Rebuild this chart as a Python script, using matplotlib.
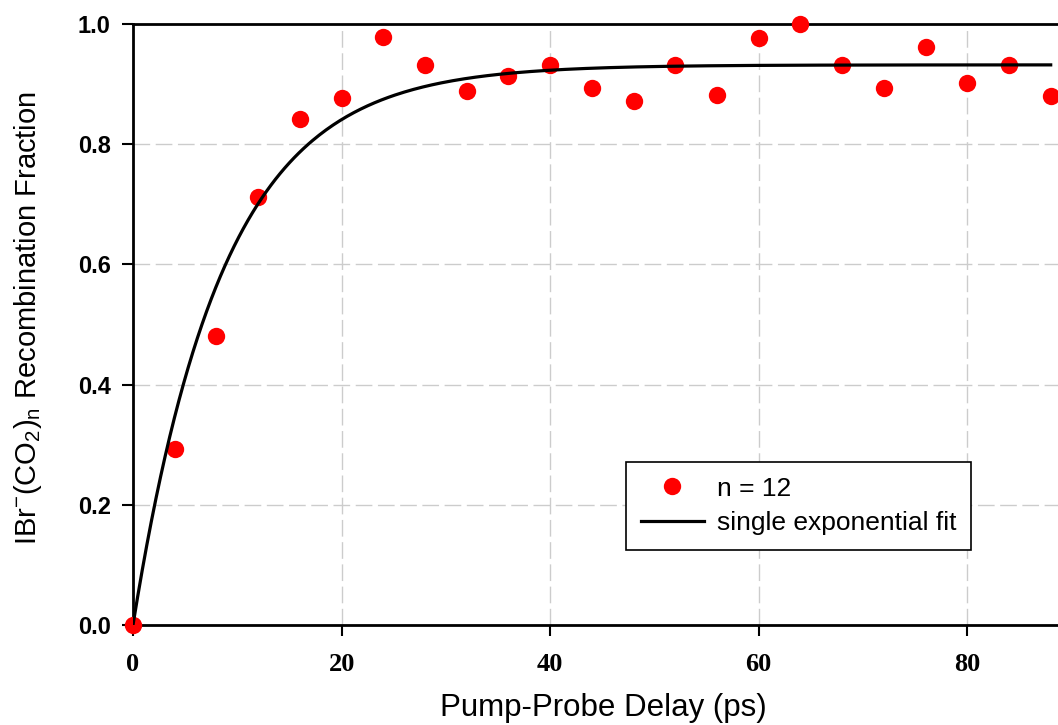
import numpy as np
import matplotlib.pyplot as plt

# pump-probe delay (ps) and recombination fraction
delay = [0, 4, 8, 12, 16, 20, 24, 28, 32, 36, 40, 44, 48, 52, 56, 60, 64, 68, 72, 76, 80, 84, 88]
fraction = [0.0, 0.293, 0.481, 0.712, 0.842, 0.877, 0.978, 0.932, 0.889, 0.913, 0.932,
            0.894, 0.872, 0.932, 0.882, 0.977, 1.0, 0.932, 0.894, 0.962, 0.902, 0.932, 0.880]

# single exponential fit parameters: A * (1 - exp(-t / tau))
fit_amp = 0.932
fit_tau = 8.6

x_ticks = [0, 20, 40, 60, 80]
y_ticks = [0.0, 0.2, 0.4, 0.6, 0.8, 1.0]

plt.rcParams["font.family"] = "Liberation Sans"
plt.rcParams["mathtext.fontset"] = "custom"
plt.rcParams["mathtext.rm"] = "Liberation Sans"
plt.rcParams["mathtext.it"] = "Liberation Sans"

fig = plt.figure(figsize=(10.58, 7.25), dpi=100)
ax = fig.add_axes([133 / 1058, 100 / 725, (1058 - 133) / 1058, 601 / 725])

t = np.linspace(0, 88, 400)
fit = fit_amp * (1 - np.exp(-t / fit_tau))

ax.plot(delay, fraction, "o", color="red", markersize=12.5, markeredgewidth=0,
        clip_on=False, zorder=3, label="n = 12")
ax.plot(t, fit, color="black", linewidth=2.3, zorder=4, label="single exponential fit")

ax.set_xlim(0, 88.7)
ax.set_ylim(0, 1.0)
ax.set_xticks(x_ticks, [str(v) for v in x_ticks], fontfamily="Liberation Serif",
              fontweight="bold", fontsize=19)
ax.set_yticks(y_ticks, [f"{v:.1f}" for v in y_ticks], fontfamily="Liberation Sans",
              fontweight="bold", fontsize=17)

ax.tick_params(axis="both", direction="out", length=8, width=1.5, colors="black")
ax.tick_params(axis="x", pad=12)
ax.tick_params(axis="y", pad=8)

ax.grid(True, color="#cccccc", linestyle=(0, (12, 4)), linewidth=1.0)
ax.set_axisbelow(True)

ax.spines["right"].set_visible(False)
for side in ["left", "top", "bottom"]:
    ax.spines[side].set_linewidth(2)

ax.set_xlabel("Pump-Probe Delay (ps)", fontsize=22.5)
ax.xaxis.set_label_coords((603 - 133) / 925, -(708 - 625) / 601)
ax.xaxis.label.set_va("center")
ax.set_ylabel(r"IBr$^{\mathregular{-}}$(CO$_{\mathregular{2}}$)$_{\mathregular{n}}$ Recombination Fraction",
              fontsize=21)
ax.yaxis.set_label_coords(-(133 - 28) / 925, (625 - 318) / 601)
ax.yaxis.label.set_va("center")

leg = ax.legend(loc="upper left", bbox_to_anchor=((626 - 133) / 925, (625 - 462) / 601),
                borderaxespad=0, fontsize=19, fancybox=False, framealpha=1,
                edgecolor="black", handlelength=2.4, borderpad=0.55, labelspacing=0.4,
                handletextpad=0.5)
leg.get_frame().set_linewidth(1.2)

plt.savefig("out.png", dpi=100)
